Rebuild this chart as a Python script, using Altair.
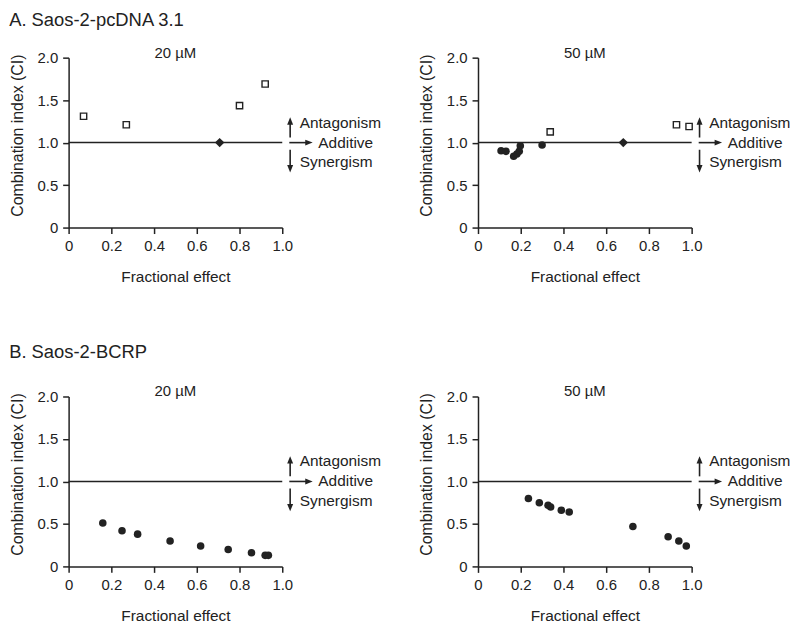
import altair as alt
import pandas as pd

# ---------------- data ----------------
# A. Saos-2-pcDNA 3.1, 20 uM
a20_sq_x = [0.07, 0.27, 0.80, 0.92]
a20_sq_y = [1.31, 1.21, 1.435, 1.69]
a20_dia_x = [0.707]
a20_dia_y = [1.0]
a20_dot_x = []
a20_dot_y = []

# A. Saos-2-pcDNA 3.1, 50 uM
a50_dot_x = [0.108, 0.131, 0.167, 0.182, 0.193, 0.198, 0.30]
a50_dot_y = [0.904, 0.897, 0.839, 0.865, 0.897, 0.963, 0.971]
a50_sq_x = [0.338, 0.929, 0.988]
a50_sq_y = [1.126, 1.21, 1.19]
a50_dia_x = [0.68]
a50_dia_y = [1.0]

# B. Saos-2-BCRP, 20 uM
b20_dot_x = [0.16, 0.25, 0.323, 0.475, 0.618, 0.747, 0.856, 0.92, 0.935]
b20_dot_y = [0.51, 0.42, 0.38, 0.30, 0.24, 0.20, 0.16, 0.13, 0.13]

# B. Saos-2-BCRP, 50 uM
b50_dot_x = [0.236, 0.287, 0.328, 0.34, 0.39, 0.427, 0.725, 0.89, 0.94, 0.975]
b50_dot_y = [0.80, 0.75, 0.72, 0.70, 0.66, 0.64, 0.47, 0.35, 0.30, 0.24]

x_ticks = [0, 0.2, 0.4, 0.6, 0.8, 1.0]
y_ticks = [0, 0.5, 1.0, 1.5, 2.0]

group_titles = ["A. Saos-2-pcDNA 3.1", "B. Saos-2-BCRP"]
panel_titles = ["20 \u00b5M", "50 \u00b5M"]
x_title = "Fractional effect"
y_title = "Combination index (CI)"
ann_labels = ["Antagonism", "Additive", "Synergism"]

# ---------------- style ----------------
INK = "#222222"
FONT = "Liberation Sans"
W, H = 215, 171

one = pd.DataFrame({"d": [0]})

xs = alt.Scale(domain=[0, 1], nice=False, zero=False)
ys = alt.Scale(domain=[0, 2], nice=False, zero=False)
label_expr = "datum.value == 0 ? '0' : format(datum.value, '.1f')"

x_axis = alt.Axis(values=x_ticks, labelExpr=label_expr, title=x_title)
y_axis = alt.Axis(values=y_ticks, labelExpr=label_expr, title=y_title, titleY=78)


def xenc(field):
    return alt.X(field, type="quantitative", scale=xs, axis=x_axis)


def yenc(field):
    return alt.Y(field, type="quantitative", scale=ys, axis=y_axis)


ARROW_UP = "M0,-1L0.8,1L-0.8,1Z"
ARROW_DOWN = "M0,1L0.8,-1L-0.8,-1Z"
ARROW_RIGHT = "M1,0L-1,0.8L-1,-0.8Z"


def panel(title, dots=None, squares=None, diamonds=None):
    layers = []
    # additive reference line
    layers.append(
        alt.Chart(one).mark_rule(color=INK, strokeWidth=1.5).encode(
            x=alt.X(datum=0, type="quantitative", scale=xs, axis=x_axis),
            x2=alt.X2(datum=1),
            y=alt.Y(datum=1, type="quantitative", scale=ys, axis=y_axis),
        )
    )
    if dots is not None and len(dots[0]):
        df = pd.DataFrame({"x": dots[0], "y": dots[1]})
        layers.append(alt.Chart(df).mark_point(shape="circle", filled=True, size=58,
                                               color=INK, opacity=1).encode(x=xenc("x"), y=yenc("y")))
    if squares is not None and len(squares[0]):
        df = pd.DataFrame({"x": squares[0], "y": squares[1]})
        layers.append(alt.Chart(df).mark_point(shape="square", filled=False, size=40,
                                               color=INK, strokeWidth=1.4, opacity=1).encode(x=xenc("x"), y=yenc("y")))
    if diamonds is not None and len(diamonds[0]):
        df = pd.DataFrame({"x": diamonds[0], "y": diamonds[1]})
        layers.append(alt.Chart(df).mark_point(shape="diamond", filled=True, size=90,
                                               color=INK, opacity=1).encode(x=xenc("x"), y=yenc("y")))
    # annotation arrows
    rule = alt.Chart(one).mark_rule(color=INK, strokeWidth=1.6)
    layers.append(rule.encode(x=alt.X(datum=1.037), y=alt.Y(datum=1.06), y2=alt.Y2(datum=1.254)))
    layers.append(rule.encode(x=alt.X(datum=1.037), y=alt.Y(datum=0.916), y2=alt.Y2(datum=0.692)))
    layers.append(rule.encode(x=alt.X(datum=1.033), x2=alt.X2(datum=1.125), y=alt.Y(datum=1.0)))
    head = dict(filled=True, size=56, color=INK, opacity=1, strokeWidth=0)
    layers.append(alt.Chart(one).mark_point(shape=ARROW_UP, **head).encode(
        x=alt.X(datum=1.037), y=alt.Y(datum=1.254)))
    layers.append(alt.Chart(one).mark_point(shape=ARROW_DOWN, **head).encode(
        x=alt.X(datum=1.037), y=alt.Y(datum=0.692)))
    layers.append(alt.Chart(one).mark_point(shape=ARROW_RIGHT, **head).encode(
        x=alt.X(datum=1.125), y=alt.Y(datum=1.0)))
    txt = alt.Chart(one).mark_text(align="left", baseline="middle", font=FONT,
                                   fontSize=15.5, color=INK)
    layers.append(txt.encode(x=alt.X(datum=1.082), y=alt.Y(datum=1.236), text=alt.value(ann_labels[0])))
    layers.append(txt.encode(x=alt.X(datum=1.169), y=alt.Y(datum=1.0), text=alt.value(ann_labels[1])))
    layers.append(txt.encode(x=alt.X(datum=1.082), y=alt.Y(datum=0.768), text=alt.value(ann_labels[2])))

    return alt.layer(*layers).properties(
        width=W, height=H,
        title=alt.Title(title, fontSize=15, fontWeight="normal", font=FONT,
                        color=INK, offset=-10, frame="group"),
    )


gtitle = dict(anchor="start", fontSize=18.5, fontWeight="normal", font=FONT, color=INK)

rowA = alt.hconcat(
    panel(panel_titles[0], dots=(a20_dot_x, a20_dot_y), squares=(a20_sq_x, a20_sq_y),
          diamonds=(a20_dia_x, a20_dia_y)),
    panel(panel_titles[1], dots=(a50_dot_x, a50_dot_y), squares=(a50_sq_x, a50_sq_y),
          diamonds=(a50_dia_x, a50_dia_y)),
    spacing=37,
    title=alt.Title(group_titles[0], offset=16, **gtitle),
)
rowB = alt.hconcat(
    panel(panel_titles[0], dots=(b20_dot_x, b20_dot_y)),
    panel(panel_titles[1], dots=(b50_dot_x, b50_dot_y)),
    spacing=37,
    title=alt.Title(group_titles[1], offset=23, **gtitle),
)

chart = (
    alt.vconcat(rowA, rowB, spacing=58)
    .configure(padding=1, background="white")
    .configure_view(stroke=None)
    .configure_axis(
        grid=False,
        domainColor=INK, domainWidth=1.5,
        tickColor=INK, tickWidth=1.5, tickSize=6,
        labelFont=FONT, labelFontSize=15, labelColor=INK, labelPadding=5,
        titleFont=FONT, titleFontSize=15.5, titleFontWeight="normal", titleColor=INK,
    )
    .configure_axisX(titlePadding=16, labelFlush=False, labelOverlap=False)
    .configure_axisY(titlePadding=12, labelOverlap=False, titleFontSize=16)
)

chart.save("out.html", embed_options={"renderer": "svg", "actions": False})
